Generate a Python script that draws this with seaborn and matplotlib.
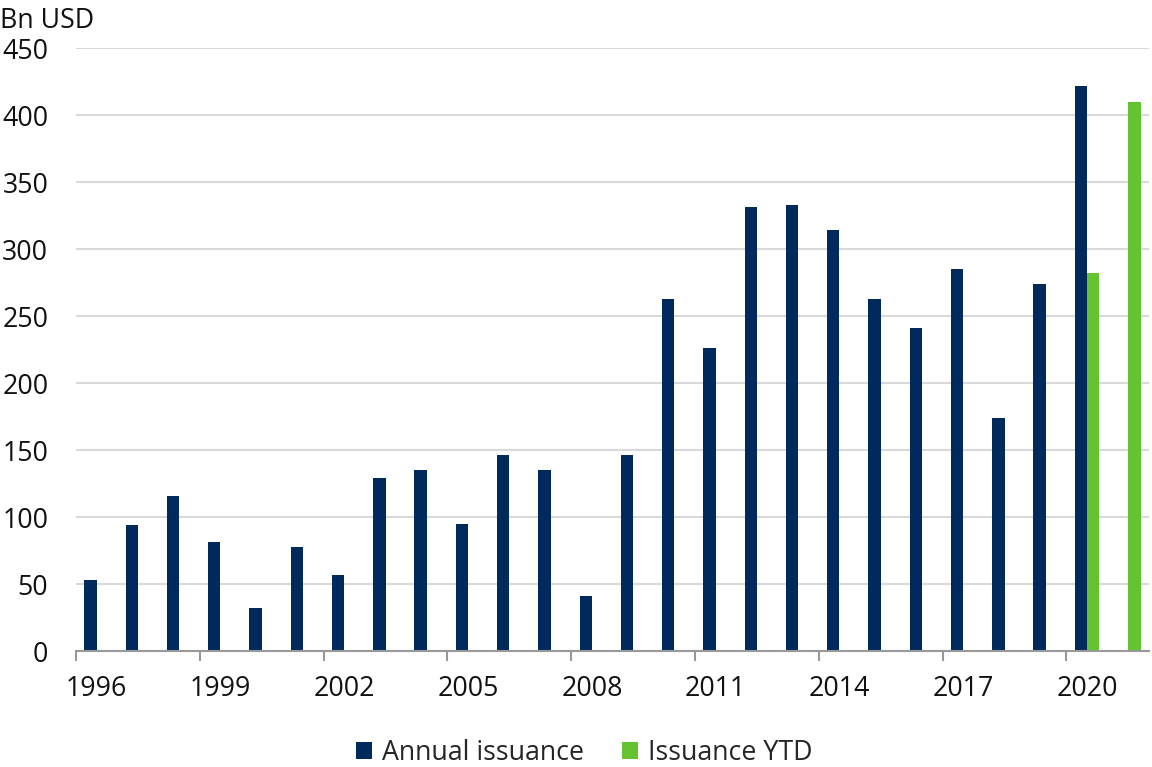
import pandas as pd
import numpy as np
import matplotlib.pyplot as plt
import seaborn as sns

years = list(range(1996, 2022))
annual = [53, 94, 116, 81, 32, 78, 57, 129, 135, 95, 146, 135, 41, 146,
          263, 226, 331, 333, 314, 263, 241, 285, 174, 274, 422, np.nan]
ytd = [np.nan] * 24 + [282, 410]

df = pd.DataFrame({'year': [str(y) for y in years] * 2,
                   'value': annual + ytd,
                   'series': ['Annual issuance'] * 26 + ['Issuance YTD'] * 26})

sns.set_theme(style='white')
plt.rcParams['font.family'] = ['Open Sans', 'DejaVu Sans']
fs = 19.3

fig = plt.figure(figsize=(11.52, 7.67), dpi=100)
ax = fig.add_axes([0.066, 0.1512, 0.9314, 0.7862])

sns.barplot(data=df, x='year', y='value', hue='series',
            palette=['#002a5c', '#65c332'], width=0.6, linewidth=0,
            saturation=1, ax=ax)

ax.set_xlim(-0.5, 25.5)
ax.set_ylim(0, 450)
ax.set_yticks(range(0, 451, 50))
ax.yaxis.grid(True, color='#d9d9d9', lw=1.5)
ax.set_axisbelow(True)
ax.tick_params(axis='y', length=0, pad=20, labelsize=fs, labelcolor='#111111')

# ticks on category boundaries, labels at every third year
ax.set_xticks(np.arange(-0.5, 25, 3))
ax.set_xticklabels([])
ax.set_xticks(np.arange(0, 26, 3), minor=True)
ax.set_xticklabels([str(y) for y in years[::3]], minor=True)
ax.tick_params(axis='x', which='major', bottom=True, length=7, width=1.5,
               color='#999999', direction='out')
ax.tick_params(axis='x', which='minor', bottom=True, length=0, pad=17,
               labelsize=fs, labelcolor='#111111')

for s in ['left', 'right', 'top']:
    ax.spines[s].set_visible(False)
ax.spines['bottom'].set_color('#999999')
ax.spines['bottom'].set_linewidth(1.5)
ax.set(xlabel='', ylabel='')

fig.text(0.0, 0.972, 'Bn USD', fontsize=fs, color='#111111', ha='left', va='center')

sns.move_legend(ax, 'center', bbox_to_anchor=(0.474, -0.169), ncol=2, frameon=False,
                title=None, fontsize=fs, handlelength=0.6, handleheight=0.6,
                handletextpad=0.37, columnspacing=1.42)

fig.savefig('out.png', dpi=100)
